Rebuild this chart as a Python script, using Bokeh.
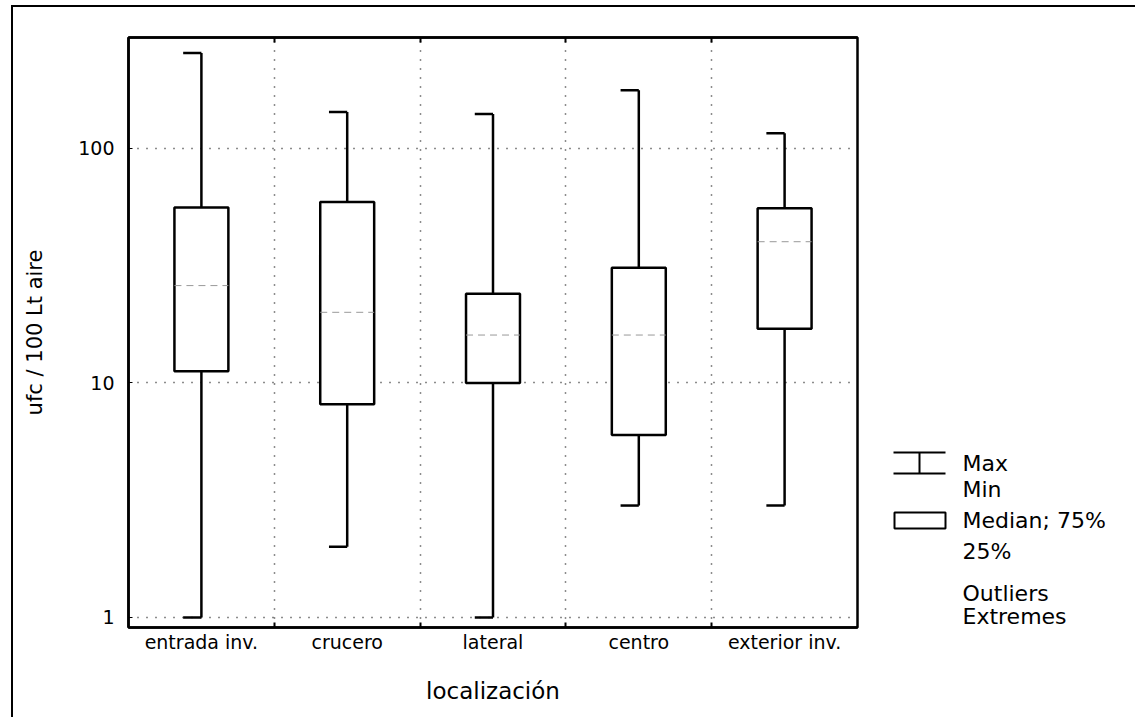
from bokeh.plotting import figure
from bokeh.layouts import row
from bokeh.models import (Range1d, FixedTicker, LinearAxis, NumeralTickFormatter,
                          ColumnDataSource)
from bokeh.core.properties import value
from bokeh.embed import file_html
from bokeh.resources import INLINE

# ---- data ----
categories = ["entrada inv.", "crucero", "lateral", "centro", "exterior inv."]
maxima = [255, 143, 140, 177, 116]
q3 = [56, 59, 24, 31, 55.5]
medians = [26, 20, 16, 16, 40]
q1 = [11.2, 8.1, 10, 6.0, 17]
minima = [1, 2, 1, 3, 3]
y_ticks = [1, 10, 100]
legend_texts = ["Max", "Min", "Median; 75%", "25%", "Outliers", "Extremes"]

FONT = "DejaVu Sans"
W, H = 1135, 717
MT, ML, BW = 5, 11, 2                 # outer frame: margin and border width
OX, OY = ML + BW, MT + BW             # page offset of the figures
FL, FT, FW, FH = 128, 37, 729, 590    # frame position on the page
FB = FT + FH
RB = 3

n = len(categories)
xs = [i + 0.5 for i in range(n)]
bounds = list(range(1, n))
hw = 0.185
cap = 0.125

# ---- main chart ----
src = ColumnDataSource(dict(
    x=xs, xl=[x - hw for x in xs], xr=[x + hw for x in xs], xc=[x - cap for x in xs],
    mx=maxima, q3=q3, med=medians, q1=q1, mn=minima))

p = figure(x_range=Range1d(0, n), y_range=Range1d(0.906, 297), y_axis_type="log",
           frame_width=FW, frame_height=FH,
           min_border_left=FL - OX, min_border_right=RB,
           min_border_top=FT - OY, min_border_bottom=H - FB,
           output_backend="svg", toolbar_location=None)
p.background_fill_color = "white"
p.border_fill_color = "white"
p.outline_line_color = "black"
p.outline_line_width = 2.5

p.ygrid.ticker = FixedTicker(ticks=y_ticks)
p.xgrid.ticker = FixedTicker(ticks=bounds)
for g in (p.xgrid, p.ygrid):
    g.grid_line_color = "black"
    g.grid_line_dash = "1 8"
    g.grid_line_width = 1.5
    g.grid_line_alpha = 0.9

xa = p.xaxis[0]
xa.ticker = FixedTicker(ticks=xs, minor_ticks=bounds)
xa.major_label_overrides = {x: c for x, c in zip(xs, categories)}
xa.major_tick_in = 0
xa.major_tick_out = 0
xa.minor_tick_in = 5
xa.minor_tick_out = 0
xa.minor_tick_line_width = 2
xa.axis_line_width = 2.5
xa.major_label_text_font = FONT
xa.major_label_text_font_size = "19px"
xa.major_label_text_color = "black"
xa.major_label_standoff = 3
xa.axis_label = "localización"
xa.axis_label_text_font = FONT
xa.axis_label_text_font_size = "23px"
xa.axis_label_text_font_style = "normal"
xa.axis_label_text_color = "black"
xa.axis_label_standoff = 22

top = LinearAxis(ticker=FixedTicker(ticks=[], minor_ticks=bounds))
top.minor_tick_in = 5
top.minor_tick_out = 0
top.minor_tick_line_width = 2
top.axis_line_width = 2.5
top.major_label_text_font_size = "0px"
p.add_layout(top, "above")

ya = p.yaxis[0]
ya.ticker = FixedTicker(ticks=y_ticks)
ya.formatter = NumeralTickFormatter(format="0")
ya.major_tick_in = 4
ya.major_tick_out = 0
ya.axis_line_width = 2.5
ya.major_label_text_font = FONT
ya.major_label_text_font_size = "19px"
ya.major_label_text_color = "black"
ya.major_label_standoff = 14
ya.axis_label = "ufc / 100 Lt aire"
ya.axis_label_text_font = FONT
ya.axis_label_text_font_size = "21px"
ya.axis_label_text_font_style = "normal"
ya.axis_label_text_color = "black"
ya.axis_label_standoff = 28

LW = 2.5
p.segment(x0="x", y0="q3", x1="x", y1="mx", source=src, line_color="black", line_width=LW)
p.segment(x0="x", y0="q1", x1="x", y1="mn", source=src, line_color="black", line_width=LW)
p.segment(x0="xc", y0="mx", x1="x", y1="mx", source=src, line_color="black", line_width=LW)
p.segment(x0="xc", y0="mn", x1="x", y1="mn", source=src, line_color="black", line_width=LW)
p.quad(left="xl", right="xr", bottom="q1", top="q3", source=src,
       fill_color="white", line_color="black", line_width=LW)
p.segment(x0="xl", y0="med", x1="xr", y1="med", source=src, line_color="#999999",
          line_width=1, line_dash="7 5")

# ---- legend panel: frame shares the main frame's rows, data units = page pixels ----
LX0 = FL + FW + RB
LWID = W - LX0
leg = figure(frame_width=LWID, frame_height=FH,
             x_range=Range1d(LX0, LX0 + LWID), y_range=Range1d(FB, FT),
             min_border_left=0, min_border_right=0,
             min_border_top=FT - OY, min_border_bottom=H - FB,
             x_axis_location=None, y_axis_location=None,
             output_backend="svg", toolbar_location=None)
leg.grid.visible = False
leg.outline_line_color = None
leg.background_fill_color = "white"
leg.border_fill_color = "white"

leg.segment(x0=[893, 919, 893], y0=[452, 452, 473], x1=[945, 919, 945], y1=[452, 473, 473],
            line_color="black", line_width=2)
leg.quad(left=[894], right=[945], top=[512], bottom=[528], fill_color="white",
         line_color="black", line_width=2)
legend_y = [463, 489, 520, 551, 593, 616]
leg.text(x=[962] * len(legend_texts), y=legend_y, text=legend_texts,
         text_font=value(FONT), text_font_size="22px", text_baseline="middle",
         text_color="black")

layout = row(p, leg, spacing=0, margin=(MT, 0, 0, ML),
             styles={"border-top": f"{BW}px solid black", "border-left": f"{BW}px solid black",
                     "border-right": "0px none white", "border-bottom": "0px none white",
                     "overflow": "hidden"})

open("out.html", "w").write(file_html(layout, INLINE))
